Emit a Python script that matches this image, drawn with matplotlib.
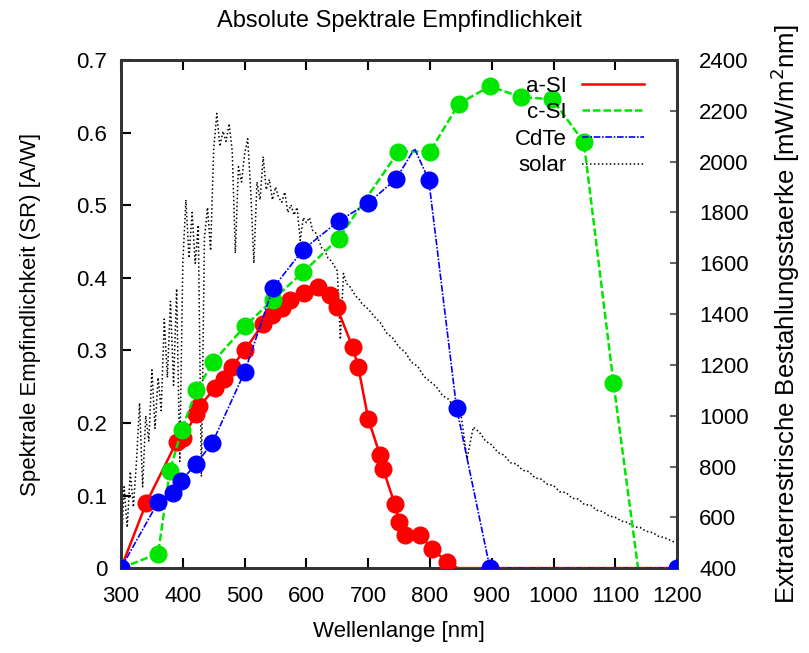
#!/usr/bin/env python3
# coding: utf-8

import matplotlib
matplotlib.use('Agg')
import matplotlib.pyplot as plt
from matplotlib.lines import Line2D

plt.rcParams['font.family'] = ['Liberation Sans', 'DejaVu Sans']

# a-Si (last two points only carry the line along zero, no markers)
asi_nm = [300, 341, 390, 400, 422, 427, 452, 466, 479, 500, 530, 544, 560, 573,
          596, 619, 638, 649, 675, 684, 700, 719, 724, 743, 750, 760, 784, 803,
          827, 845, 1200]
asi_sr = [0.0, 0.09, 0.174, 0.179, 0.213, 0.223, 0.248, 0.261, 0.277, 0.30,
          0.337, 0.349, 0.358, 0.369, 0.379, 0.388, 0.376, 0.36, 0.304, 0.277,
          0.206, 0.156, 0.137, 0.088, 0.064, 0.045, 0.045, 0.027, 0.009, 0.0,
          0.0]

# c-Si
csi_nm = [300, 360, 379, 398, 422, 449, 500, 546, 595, 652, 749, 800, 847, 897,
          947, 998, 1049, 1097, 1150]
csi_sr = [0.0, 0.02, 0.134, 0.19, 0.245, 0.284, 0.333, 0.37, 0.408, 0.454,
          0.574, 0.574, 0.64, 0.664, 0.649, 0.646, 0.587, 0.255, -0.085]

# CdTe (775 nm point is the unmarked peak of the line)
cdte_nm = [300, 360, 384, 397, 422, 448, 500, 546, 595, 652, 700, 745, 775, 798,
           843, 897, 1200]
cdte_sr = [0.0, 0.091, 0.104, 0.12, 0.144, 0.173, 0.27, 0.386, 0.439, 0.478,
           0.503, 0.536, 0.578, 0.535, 0.221, 0.0, 0.0]

# extraterrestrial solar spectrum
solar_nm = list(range(300, 700, 5)) + list(range(700, 1201, 10))
solar_e = [450, 720, 560, 780, 640, 820, 1050, 720, 1000, 900,
           1180, 950, 1150, 1020, 1380, 1150, 1450, 1120, 1500, 820,
           1600, 1850, 1620, 1800, 1600, 1750, 760, 1700, 1820, 1650,
           2050, 2190, 2060, 2120, 2080, 2150, 2040, 1640, 1980, 1920,
           2030, 2090, 1880, 1600, 1920, 1850, 2020, 1890, 1930, 1850,
           1900, 1860, 1840, 1880, 1800, 1830, 1790, 1820, 1690, 1780,
           1760, 1780, 1730, 1720, 1690, 1660, 1650, 1620, 1610, 1590,
           1570, 1300, 1560, 1520, 1510, 1490, 1470, 1460, 1440, 1430,
           1420, 1390, 1365, 1325, 1305, 1270, 1250, 1210, 1195, 1155,
           1135, 1115, 1080, 1065, 1030, 1010, 830, 955, 935, 900,
           885, 855, 845, 815, 810, 785, 780, 755, 750, 730,
           725, 700, 698, 675, 672, 650, 648, 628, 622, 605,
           600, 585, 580, 562, 560, 545, 540, 525, 520, 508, 498]

fig = plt.figure(figsize=(8.09, 6.53), dpi=100)
ax = fig.add_axes([0.1496, 0.130, 0.6874, 0.778])
ax2 = ax.twinx()

ax.plot(asi_nm, asi_sr, color='#ff0000', lw=1.8, ls='-', marker='o', ms=12,
        markevery=slice(0, -2), zorder=3)
ax.plot(csi_nm, csi_sr, color='#00e600', lw=1.8, ls=(0, (3, 1.2)), marker='o',
        ms=12, zorder=4)
ax.plot(cdte_nm, cdte_sr, color='#0000ff', lw=1.2, ls=(0, (4, 1, 1, 1)),
        marker='o', ms=12, markevery=[i for i in range(len(cdte_nm)) if i != 12],
        zorder=5)
ax2.plot(solar_nm, solar_e, color='black', lw=1.1, ls=(0, (1, 1.6)))

ax.set_xlim(300, 1200)
ax.set_ylim(0, 0.7)
ax2.set_ylim(400, 2400)
ax.set_zorder(2)
ax.patch.set_visible(False)

ax.set_xticks(range(300, 1201, 100))
ax.set_yticks([0, 0.1, 0.2, 0.3, 0.4, 0.5, 0.6, 0.7])
ax.set_yticklabels(['0', '0.1', '0.2', '0.3', '0.4', '0.5', '0.6', '0.7'])
ax2.set_yticks(range(400, 2401, 200))

ax.tick_params(axis='x', direction='in', length=7, width=1.5, top=True,
               labelsize=16, pad=13)
ax.tick_params(axis='y', direction='in', length=7, width=1.5, right=False,
               labelsize=16, pad=10)
ax2.tick_params(axis='y', direction='in', length=5, width=1.5, color='#666666',
                labelsize=16, pad=16)

for a in (ax, ax2):
    for s in a.spines.values():
        s.set_linewidth(2)
        s.set_color('#333333')

ax.set_title('Absolute Spektrale Empfindlichkeit', fontsize=17, pad=24)
ax.set_xlabel('Wellenlange [nm]', fontsize=16, labelpad=10)
ax.set_ylabel('Spektrale Empfindlichkeit (SR) [A/W]', fontsize=16, labelpad=25)
ax2.set_ylabel('Extraterrestrische Bestahlungsstaerke [mW/m$^2$nm]',
               fontsize=18.5, labelpad=14)

handles = [
    Line2D([], [], color='#ff0000', lw=1.8),
    Line2D([], [], color='#00e600', lw=1.8, ls=(0, (3, 1.2))),
    Line2D([], [], color='#0000ff', lw=1.2, ls=(0, (4, 1, 1, 1))),
    Line2D([], [], color='black', lw=1.1, ls=(0, (1, 1.6))),
]
ax.legend(handles, ['a-SI', 'c-SI', 'CdTe', 'solar'], loc='upper right',
          bbox_to_anchor=(0.969, 1.0), markerfirst=False, frameon=False,
          fontsize=16, handlelength=2.8, labelspacing=0.25,
          borderaxespad=0.3, handletextpad=0.7)

fig.savefig('out.png', dpi=100)
